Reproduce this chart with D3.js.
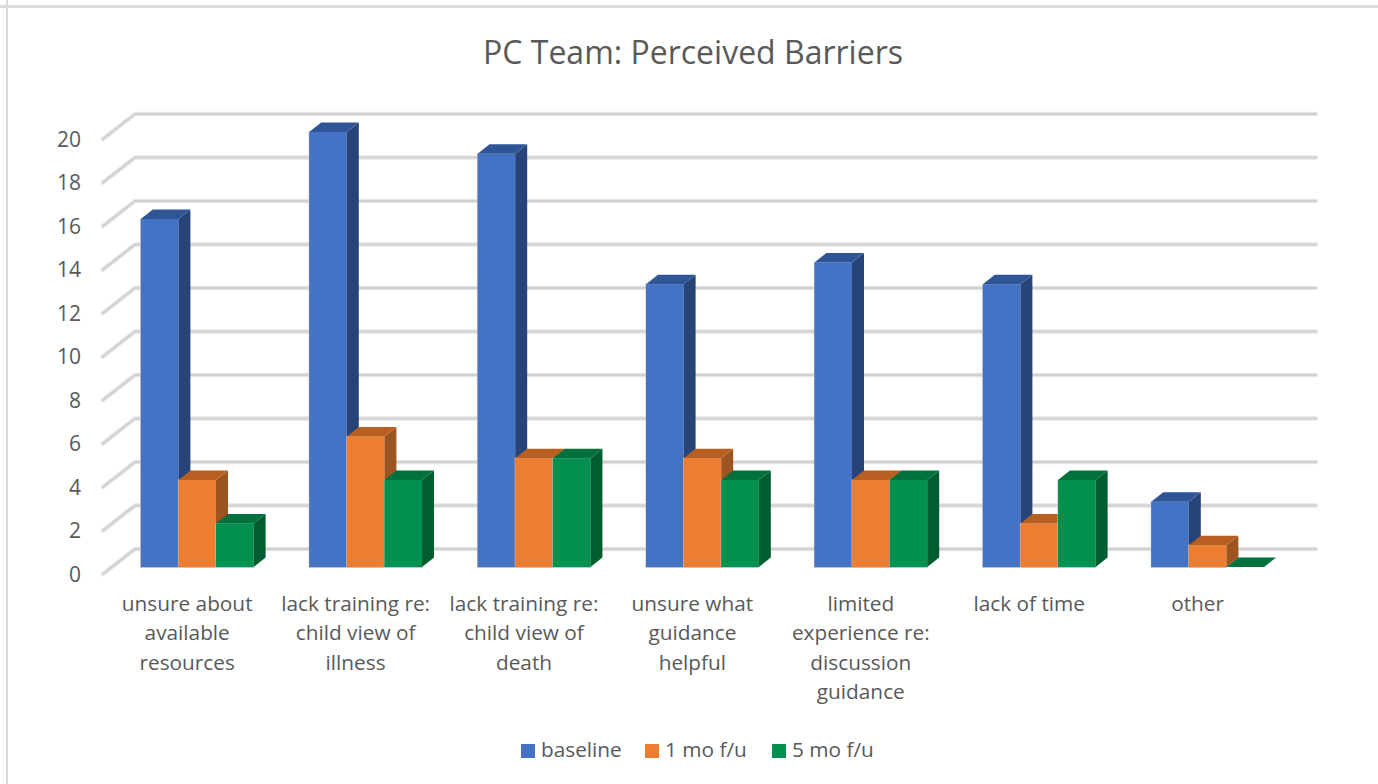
<!DOCTYPE html>
<html><head><meta charset="utf-8">
<script src="https://cdn.jsdelivr.net/npm/d3@7"></script>
<style>html,body{margin:0;padding:0;background:#fff}svg{display:block}text{font-family:"Open Sans","Noto Sans",sans-serif;fill:#595959}</style>
</head><body><svg id="c" width="1378" height="784"></svg>
<script>
const categories = [
  ["unsure about","available","resources"],
  ["lack training re:","child view of","illness"],
  ["lack training re:","child view of","death"],
  ["unsure what","guidance","helpful"],
  ["limited","experience re:","discussion","guidance"],
  ["lack of time"],
  ["other"]
];
const seriesNames = ["baseline","1 mo f/u","5 mo f/u"];
const baseline = [16,20,19,13,14,13,3];
const oneMonth = [4,6,5,5,4,2,1];
const fiveMonth = [2,4,5,4,4,4,0];
const yTicks = d3.range(0,21,2);
const frontColors = ["#4472C4","#ED7D31","#00914F"];
const topColors = ["#2F5597","#B85F22","#00703C"];
const sideColors = ["#264478","#9C5520","#005C31"];

const svg = d3.select("#c");
const W = {x0:103, x1:1284, dx:32, dy:-25};       // plot floor/wall geometry
const D = {dx:12, dy:-9.5, ox:10, oy:-7};         // bar depth
const x = d3.scaleBand().domain(d3.range(7)).range([W.x0,W.x0+168.4*7]).paddingInner(0.33).paddingOuter(0.165);
const xs = d3.scaleBand().domain(d3.range(3)).range([0,x.bandwidth()]);
const y = d3.scaleLinear().domain([0,20]).range([574,139]);
const data = [baseline,oneMonth,fiveMonth];

// frame
svg.append("line").attr("x1",0).attr("x2",1378).attr("y1",6.5).attr("y2",6.5).attr("stroke","#dcdcdc").attr("stroke-width",3);
svg.append("line").attr("x1",7).attr("x2",7).attr("y1",0).attr("y2",784).attr("stroke","#d9d9d9").attr("stroke-width",2);

svg.append("text").attr("x",693).attr("y",64).attr("text-anchor","middle").style("font-size","32px").text("PC Team: Perceived Barriers");

// gridlines with wall return
const gridPath = v => `M${W.x0},${y(v)}L${W.x0+W.dx},${y(v)+W.dy}L${W.x1+W.dx},${y(v)+W.dy}`;
const g = svg.append("g").attr("fill","none").attr("stroke-linejoin","round").attr("stroke-linecap","round");
[["#e6e6e6",4.5],["#d0d0d0",2.2]].forEach(([c,w])=>{
  g.selectAll(null).data(yTicks).join("path").attr("d",gridPath).attr("stroke",c).attr("stroke-width",w);
});

// y tick labels
svg.append("g").selectAll("text").data(yTicks).join("text")
  .attr("x",81).attr("y",d=>y(d)).attr("dy","0.36em").attr("text-anchor","end").style("font-size","21px").text(d=>d);

// bars
const bars = svg.append("g");
categories.forEach((c,i)=>{
  [0,1,2].forEach(s=>{
    const v = data[s][i];
    const l = x(i)+xs(s)+D.ox, r = l+xs.bandwidth();
    const t = y(v)+D.oy, b = y(0)+D.oy;
    const gb = bars.append("g");
    if (v>0) gb.append("rect").attr("x",l-0.5).attr("y",t-0.5).attr("width",r-l+1).attr("height",b-t+1.5).attr("fill","#c4c4c4");
    gb.append("path").attr("d",`M${r},${t}L${r+D.dx},${t+D.dy}L${r+D.dx},${b+D.dy}L${r},${b}Z`).attr("fill",sideColors[s]);
    gb.append("path").attr("d",`M${l},${t}L${l+D.dx},${t+D.dy}L${r+D.dx},${t+D.dy}L${r},${t}Z`).attr("fill",topColors[s]);
    if (v>0) gb.append("rect").attr("x",l).attr("y",t).attr("width",r-l).attr("height",b-t).attr("fill",frontColors[s]);
  });
});

// category labels
const labels = svg.append("g").attr("text-anchor","middle").style("font-size","20.8px");
categories.forEach((lines,i)=>{
  const cx = x(i)+x.bandwidth()/2;
  lines.forEach((t,j)=>labels.append("text").attr("x",cx).attr("y",611+j*29.3).text(t));
});

// legend
const legendX = [521,645,772];
const leg = svg.append("g");
seriesNames.forEach((n,i)=>{
  leg.append("rect").attr("x",legendX[i]).attr("y",744).attr("width",14).attr("height",14).attr("fill",frontColors[i]);
  leg.append("text").attr("x",legendX[i]+20).attr("y",757).style("font-size","20.8px").text(n);
});
</script></body></html>
